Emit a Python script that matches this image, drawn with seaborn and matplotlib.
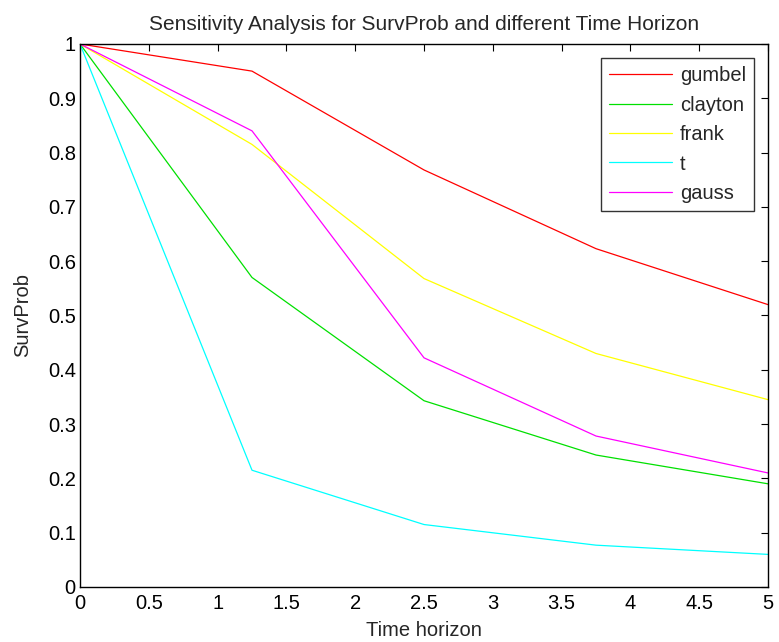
import pandas as pd
import matplotlib
matplotlib.use("Agg")
import matplotlib.pyplot as plt
import seaborn as sns

# data
time_horizon = [0, 1.25, 2.5, 3.75, 5]
gumbel = [1.0, 0.95, 0.768, 0.623, 0.52]
clayton = [1.0, 0.57, 0.343, 0.243, 0.19]
frank = [1.0, 0.815, 0.568, 0.43, 0.345]
t_copula = [1.0, 0.215, 0.115, 0.077, 0.06]
gauss = [1.0, 0.84, 0.422, 0.278, 0.21]

series = {
    "gumbel": gumbel,
    "clayton": clayton,
    "frank": frank,
    "t": t_copula,
    "gauss": gauss,
}
colors = {
    "gumbel": "#ff0000",
    "clayton": "#00e000",
    "frank": "#ffff00",
    "t": "#00ffff",
    "gauss": "#ff00ff",
}

rows = []
for name, vals in series.items():
    for x, y in zip(time_horizon, vals):
        rows.append({"Time horizon": x, "SurvProb": y, "copula": name})
df = pd.DataFrame(rows)

sns.set_style("white")
plt.rcParams["font.family"] = ["Liberation Sans", "DejaVu Sans"]
plt.rcParams["xtick.direction"] = "in"
plt.rcParams["ytick.direction"] = "in"

fig = plt.figure(figsize=(7.79, 6.42), dpi=100)
ax = fig.add_axes([0.1027, 0.0857, 0.8832, 0.8458])

sns.lineplot(
    data=df,
    x="Time horizon",
    y="SurvProb",
    hue="copula",
    palette=colors,
    linewidth=0.9,
    ax=ax
)

ax.set_xlim(0, 5)
ax.set_ylim(0, 1)
ax.set_xticks([0, 0.5, 1, 1.5, 2, 2.5, 3, 3.5, 4, 4.5, 5])
ax.set_xticklabels(["0", "0.5", "1", "1.5", "2", "2.5", "3", "3.5", "4", "4.5", "5"])
ax.set_yticks([i / 10 for i in range(11)])
ax.set_yticklabels(["0", "0.1", "0.2", "0.3", "0.4", "0.5", "0.6", "0.7", "0.8", "0.9", "1"])
ax.tick_params(axis="both", which="both", top=True, right=True, length=5,
               width=0.8, labelsize=14.5, pad=3, colors="black")
ax.tick_params(axis="x", pad=5)

for s in ax.spines.values():
    s.set_visible(True)
    s.set_color("black")
    s.set_linewidth(1.0)

ax.set_title("Sensitivity Analysis for SurvProb and different Time Horizon",
             fontsize=15, pad=10)
ax.set_xlabel("Time horizon", fontsize=14.5, labelpad=6)
ax.set_ylabel("SurvProb", fontsize=14.5, labelpad=11)

leg = ax.legend(
    loc="upper right",
    fontsize=14.5,
    handlelength=3.1,
    handletextpad=0.4,
    frameon=True,
    fancybox=False,
    edgecolor="black",
    borderaxespad=0.7,
    labelspacing=0.52,
    borderpad=0.4
)
leg.get_frame().set_linewidth(1.0)

plt.savefig("out.png", dpi=100)
plt.close()
